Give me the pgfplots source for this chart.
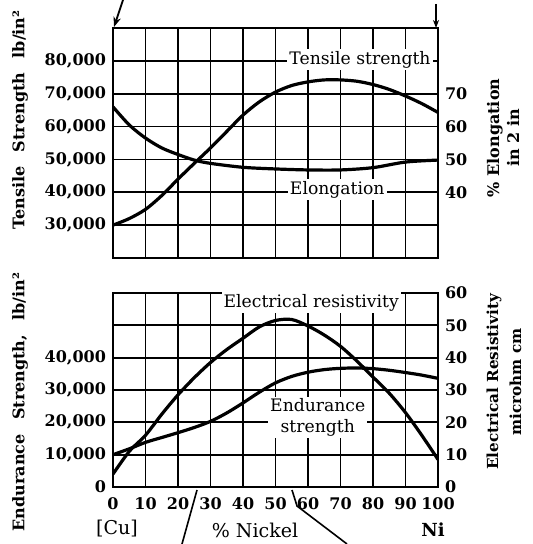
\documentclass[border=0pt]{standalone}
\usepackage{fontspec}
\setmainfont{DejaVu Serif}
\usepackage{pgfplots}
\pgfplotsset{compat=1.18}
\usetikzlibrary{arrows.meta}

% data (values in thousands of lb/in^2; elongation % and resistivity share the same scale)
\pgfplotstableread{
x   ts
0   30
5   32
10  34.8
15  39
20  44
25  48.8
30  53.5
35  58.5
40  63.5
45  67.5
50  70.5
55  72.5
60  73.6
65  74.2
70  74.2
75  73.8
80  72.8
85  71.3
90  69.3
95  67
100 64.3
}\tensile
\pgfplotstableread{
x   el
0   66
5   60.5
10  56.5
15  53.5
20  51.5
25  49.8
30  48.8
40  47.6
50  47.1
60  46.8
70  46.8
80  47.5
90  49.2
100 49.8
}\elong
\pgfplotstableread{
x   res
0   4
5   11
10  16
15  22.5
20  28.5
25  33.8
30  38.5
35  42.5
40  46
45  49.5
50  51.5
55  51.8
60  49.8
65  47
70  43.5
75  39
80  34
85  29
90  23
95  16
100 8.5
}\resist
\pgfplotstableread{
x   end
0   10
5   11.8
10  13.8
15  15.3
20  16.8
25  18.4
30  20.3
35  22.9
40  26
45  29.3
50  32.2
55  34.2
60  35.5
65  36.3
70  36.7
75  36.8
80  36.6
85  36.1
90  35.4
95  34.6
100 33.6
}\endur

\pgfplotsset{
  panel/.style={
    scale only axis, width=162.5pt,
    xmin=0, xmax=100, xtick={0,10,...,100},
    grid=major,
    grid style={black, line width=0.9pt},
    axis line style={black, line width=0.9pt},
    tick style={draw=none},
    ticklabel style={font=\bfseries\fontsize{8}{10}\selectfont},
    /pgf/number format/assume math mode=true,
  },
  rightside/.style={
    scale only axis, width=162.5pt,
    xmin=0, xmax=100,
    axis x line=none, axis y line*=right,
    axis line style={black, line width=0.9pt},
    tick style={draw=none},
    ticklabel style={font=\bfseries\fontsize{8}{10}\selectfont},
    /pgf/number format/assume math mode=true,
  },
  curve/.style={black, line width=1.6pt, smooth, no marks},
}
\tikzset{lbl/.style={fill=white, inner sep=1pt, font=\fontsize{8.6}{10.5}\selectfont}}

\begin{document}
\begin{tikzpicture}
\path[use as bounding box] (-56.5pt,-28.5pt) rectangle (210pt,243.5pt);

% upper panel
\begin{axis}[panel, at={(0,114.5pt)}, height=115pt,
  ymin=20, ymax=90, ytick={30,40,...,80},
  yticklabels={{30,000},{40,000},{50,000},{60,000},{70,000},{80,000}},
  xticklabel=\empty]
\addplot[curve] table[x=x, y=ts] {\tensile};
\addplot[curve] table[x=x, y=el] {\elong};
\node[lbl] at (axis cs:76,80.3) {Tensile strength};
\node[lbl] at (axis cs:69,40.8) {Elongation};
\end{axis}
\begin{axis}[rightside, at={(0,114.5pt)}, height=115pt,
  ymin=20, ymax=90, ytick={40,50,60,70}]
\end{axis}

% lower panel
\begin{axis}[panel, at={(0,0)}, height=97pt,
  ymin=0, ymax=60, ytick={0,10,...,50},
  yticklabels={0,{10,000},{20,000},{30,000},{40,000},{}},
  xticklabel style={yshift=-2pt}]
\addplot[curve] table[x=x, y=res] {\resist};
\addplot[curve] table[x=x, y=end] {\endur};
\node[lbl] at (axis cs:61,57) {Electrical resistivity};
\node[lbl, align=center] at (axis cs:63,21.5) {Endurance\\strength};
\end{axis}
\begin{axis}[rightside, at={(0,0)}, height=97pt,
  ymin=0, ymax=60, ytick={0,10,...,60}]
\end{axis}

% labels and leader lines, placed in pixel units of the original figure
\begin{scope}[shift={(-56.5pt,243.5pt)}, x=0.5pt, y=-0.5pt]
\node[rotate=90, font=\bfseries\fontsize{8}{9}\selectfont] at (20,120)
  {Tensile\hspace{0.9em}Strength\hspace{0.9em}lb/in²};
\node[rotate=90, font=\bfseries\fontsize{8}{9}\selectfont] at (20,402)
  {Endurance\hspace{0.9em}Strength,\hspace{0.9em}lb/in²};
\node[rotate=90, align=center, font=\bfseries\fontsize{8}{10}\selectfont] at (503,138)
  {\% Elongation\\in 2 in};
\node[rotate=90, align=center, font=\bfseries\fontsize{7.6}{11.5}\selectfont] at (504,382)
  {Electrical Resistivity\\microhm cm};
\node[font=\fontsize{9.5}{10}\selectfont] at (117,529) {[Cu]};
\node[font=\fontsize{9.5}{10}\selectfont] at (255,530) {\% Nickel};
\node[font=\bfseries\fontsize{9}{10}\selectfont] at (433,530) {Ni};
\draw[line width=0.9pt, -{Stealth[length=5pt]}] (123,0) -- (114,27);
\draw[line width=0.9pt, -{Stealth[length=4pt]}] (436,4) -- (436,28);
\draw[line width=0.8pt] (197,490) -- (182,544);
\draw[line width=0.8pt] (292,490) -- (297,506) -- (347,544);
\end{scope}
\end{tikzpicture}
\end{document}
